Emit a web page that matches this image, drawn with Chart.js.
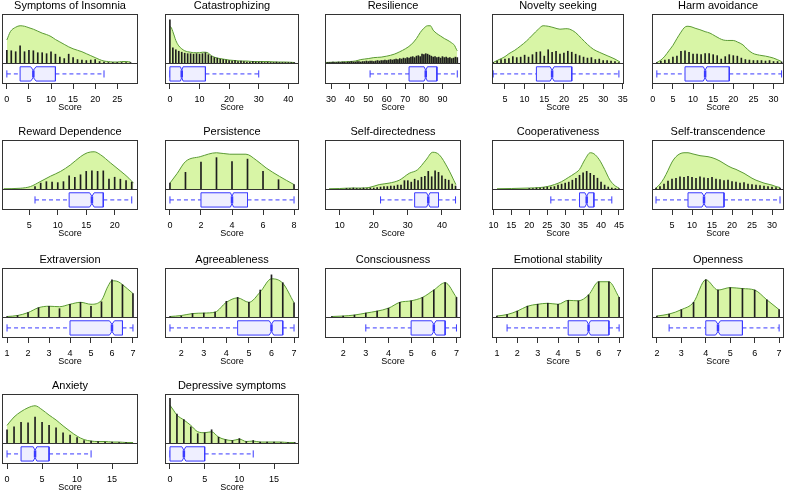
<!DOCTYPE html>
<html>
<head>
<meta charset="utf-8">
<script src="https://cdn.jsdelivr.net/npm/chart.js@4.4.0/dist/chart.umd.min.js"></script>
<style>
body { margin: 0; background: #fff; }
#wrap { position: relative; width: 789px; height: 493px; overflow: hidden; }
#wrap canvas { position: absolute; }
</style>
</head>
<body>
<div id="wrap"></div>
<script>
// density curves: [score, height in % of the upper panel]; spikes: heights from first score with a fixed step
const insomniaDensity = [[0,47],[0.8,64],[2,73],[3,76],[4,75],[5,72],[6,69],[7,65],[8,61],[9,58],[10,54],[11,48],[12,43],[13,38],[14,33],[15,29],[16,26],[17,23],[18,19],[19,15],[20,11],[21,7],[22,4],[23,3],[24,2],[25,2],[26,3],[27,3],[28,2]];
const insomniaSpikes = [26,25,23,35,23,26,25,21,21,19,23,18,12,9,18,11,7,6,5,6,7,3,2,1,1,1,1,1,1];
const insomniaBox = [0, 3, 6, 11, 22, 0.6];
const insomniaTicks = [0, 5, 10, 15, 20, 25];

const catastDensity = [[0,75],[0.5,72],[1,64],[1.5,55],[2,46],[3,35],[4,29],[5,25],[6,23],[7,22],[8,21],[9,21],[10,21],[11,22],[12,22],[13,20],[14,15],[15,12],[16,10],[17,9],[18,8],[20,6],[22,5],[24,4],[26,4],[28,3],[30,3],[33,3],[36,2],[39,2],[42,1]];
const catastSpikes = [88,31,27,24,22,20,19,19,18,19,18,19,21,17,14,11,10,8,7,6,5,4,5,3,4,3,2,2,3,2,2,2,1,2,1,1,2,1,1,1,1,1,1];
const catastBox = [0, 0, 4, 12, 30, 0.45];
const catastTicks = [0, 10, 20, 30, 40];

const resilienceDensity = [[27,1],[30,1.5],[35,2],[40,3],[43,4],[46,7],[50,9],[53,11],[57,12],[60,14],[64,18],[67,23],[70,29],[73,37],[76,50],[78,62],[80,71],[82,76],[83.5,76],[85,67],[87,60],[89,55],[91,50],[93,46],[95,41],[96.5,36],[97.5,28],[98,25]];
const resilienceSpikes = [1,1,1,2,1,1,2,1,2,2,1,2,2,3,2,2,3,3,2,3,3,4,3,4,4,3,4,5,4,5,5,6,5,6,7,6,7,8,7,9,8,10,9,11,10,12,13,11,14,15,13,18,17,19,18,16,14,12,13,11,12,10,13,11,12,10,11,9,10,12,11];
const resilienceBox = [51, 72, 81, 87, 98, 0.9];
const resilienceTicks = [30, 40, 50, 60, 70, 80, 90];

const noveltyDensity = [[2,1],[3.5,7],[5,13],[6,19],[7.5,26],[9,35],[10.5,45],[12,57],[13.5,69],[14.7,76],[16,75],[17.5,72],[19,69],[20.5,70],[21.5,69],[23,62],[24.5,50],[26,38],[27.5,28],[29,22],[31,15],[33,8],[34.3,2]];
const noveltySpikes = [1,4,7,8,9,13,11,12,16,12,17,22,23,14,27,22,24,18,20,24,22,18,15,12,10,11,7,8,5,5,4,3,1];
const noveltyBox = [2, 13, 17, 22, 34, 0.5];
const noveltyTicks = [5, 10, 15, 20, 25, 30, 35];

const harmDensity = [[1,1],[2,6],[3,14],[4,25],[5,36],[6,50],[7,63],[7.8,72],[8.5,75],[9.5,74],[10.5,71],[11.7,68],[13,64],[14.2,61],[15.5,55],[16.6,50],[17.5,47],[18.5,46],[20,46],[21,43],[22.4,37],[23.5,28],[24.8,20],[26.5,16],[28,14],[30,10],[32,3]];
const harmSpikes = [1,4,6,7,12,14,24,25,22,18,18,17,19,19,17,15,8,13,17,15,14,10,7,6,5,5,5,4,5,3,3,2];
const harmBox = [1, 8, 13, 19, 32, 0.45];
const harmTicks = [0, 5, 10, 15, 20, 25, 30];

const rewardDensity = [[0.5,0.5],[3.4,1.5],[5.2,5],[6.9,15],[8.7,26],[10.5,36],[12.2,49],[14,66],[15.2,74],[16.4,76],[17.5,70],[19.3,53],[21.1,36],[22.5,22],[23.3,12]];
const rewardSpikes = [5,12,15,14,13,15,27,24,29,36,37,36,37,20,24,20,17,14];
const rewardBox = [6, 12, 16, 18, 23, 0.4];
const rewardTicks = [5, 10, 15, 20];

const persistDensity = [[0,12],[0.47,32],[1,56],[1.95,66],[3,74],[3.86,71],[4.9,71],[5.56,59],[6.2,43],[7.05,26],[8,9]];
const persistSpikes = [12,34,55,64,56,61,36,19,9];
const persistBox = [0, 2, 4, 5, 8, 0.1];
const persistTicks = [0, 2, 4, 6, 8];

const selfDirDensity = [[6.9,0.5],[10,1],[13.7,2],[16,2],[18.6,3],[21.6,9],[24.5,12],[27.5,18],[30.4,32],[32.8,39],[35.3,59],[37.3,75],[39.2,70],[41.7,43],[44.1,9]];
const selfDirSpikes = [1,1,2,1,1,2,1,2,2,3,4,5,5,6,6,8,8,17,17,14,20,17,24,26,36,25,37,34,27,20,18,10,6];
const selfDirBox = [22, 32, 36, 39, 44, 0.5];
const selfDirTicks = [10, 20, 30, 40];

const coopDensity = [[11,0.5],[15,1],[20,2],[23,3],[25,5],[27,9],[29,15],[31,24],[32.5,31],[34,40],[35.5,60],[37,74],[38,72],[39.5,60],[41,40],[42.5,18],[44,6],[45,2]];
const coopSpikes = [1,1,2,2,3,4,4,5,8,10,12,14,18,22,28,33,36,32,28,22,14,8,4,2,1,1];
const coopBox = [26, 34, 36, 38, 43, 0.5];
const coopTicks = [10, 15, 20, 25, 30, 35, 40, 45];

const transDensity = [[1,2],[2,10],[3,22],[4,38],[5,55],[6,66],[7,72],[8,74],[9,74],[10,72],[11,70],[12,68],[13,67],[14,66],[15,64],[16,61],[17,57],[18,52],[19,47],[20,43],[21,40],[22,36],[23,32],[24,27],[25,22],[26,18],[27,15],[28,12],[29,10],[30,8],[31,5],[32,3]];
const transSpikes = [2,5,10,16,20,22,25,24,26,24,22,25,23,22,24,20,19,17,18,15,14,12,13,10,9,8,7,6,5,4,3,2];
const transBox = [1, 9, 13, 18, 32, 0.5];
const transTicks = [5, 10, 15, 20, 25, 30];

const extraDensity = [[1,1],[1.5,3],[2,9],[2.5,19],[3,22],[3.5,21],[4,26],[4.5,30],[5,26],[5.5,34],[5.8,62],[6,74],[6.3,72],[6.5,66],[7,48]];
const extraSpikes = [1,3,9,19,22,17,26,30,22,31,76,66,48];
const extraBox = [1, 4, 6, 6.5, 7, 0.12];
const extraTicks = [1, 2, 3, 4, 5, 6, 7];

const agreeDensity = [[1.5,1],[2,3],[2.5,7],[3,8],[3.5,10],[4,30],[4.5,39],[5,30],[5.5,51],[6,78],[6.5,69],[7,29]];
const agreeSpikes = [1,2,7,8,10,32,40,30,55,86,70,29];
const agreeBox = [1.5, 4.5, 6, 6.5, 7, 0.1];
const agreeTicks = [2, 3, 4, 5, 6, 7];

const conscDensity = [[1.5,1],[2,2],[2.5,4],[3,8],[3.5,12],[4,18],[4.5,30],[5,33],[5.5,40],[6,55],[6.5,70],[7,40]];
const conscSpikes = [1,2,4,8,12,18,30,33,40,55,70,40];
const conscBox = [3, 5, 6, 6.5, 7, 0.1];
const conscTicks = [2, 3, 4, 5, 6, 7];

const emoDensity = [[1,2],[1.5,5],[2,12],[2.5,22],[3,26],[3.5,28],[4,26],[4.5,34],[5,33],[5.5,45],[6,72],[6.5,72],[7,40]];
const emoSpikes = [2,5,12,22,26,28,26,34,33,45,72,72,40];
const emoBox = [1.5, 4.5, 5.5, 6.5, 7, 0.1];
const emoTicks = [1, 2, 3, 4, 5, 6, 7];

const openDensity = [[2,2],[2.5,6],[3,15],[3.5,30],[4,76],[4.5,55],[5,60],[5.5,58],[6,55],[6.5,35],[7,15]];
const openSpikes = [2,6,15,30,76,55,60,58,55,35,15];
const openBox = [2.5, 4, 4.5, 5.5, 7, 0.1];
const openTicks = [2, 3, 4, 5, 6, 7];

const anxDensity = [[0,36],[1,53],[2,64],[3,72],[4,76],[5,68],[6,57],[7,47],[8,35],[9,24],[10,14],[11,7],[12,4],[13,3],[14,3],[15,2],[16,2],[17,1],[18,1]];
const anxSpikes = [27,33,42,41,53,42,36,31,21,16,11,5,4,3,2,2,1,1];
const anxBox = [0, 2, 4, 6, 12, 0.26];
const anxTicks = [0, 5, 10, 15];

const depDensity = [[0,77],[0.5,67],[1,57],[2,47],[3,36],[4,23],[5,21],[6,23],[7,12],[8,7],[9,5],[10,8],[11,3],[12,4],[13,2],[14,2],[15,2],[16,2],[17,1],[18,1]];
const depSpikes = [91,59,48,33,19,21,27,12,7,5,9,3,5,2,2,2,1,1,1];
const depBox = [0, 0, 2, 5, 12, 0.28];
const depTicks = [0, 5, 10, 15];

const panels = [
    { title: 'Symptoms of Insomnia', density: insomniaDensity, spikes: insomniaSpikes, first: 0, step: 1, box: insomniaBox, ticks: insomniaTicks, range: [-1.1, 29.7] },
    { title: 'Catastrophizing', density: catastDensity, spikes: catastSpikes, first: 0, step: 1, box: catastBox, ticks: catastTicks, range: [-1.65, 43.6] },
    { title: 'Resilience', density: resilienceDensity, spikes: resilienceSpikes, first: 28, step: 1, box: resilienceBox, ticks: resilienceTicks, range: [26.7, 100] },
    { title: 'Novelty seeking', density: noveltyDensity, spikes: noveltySpikes, first: 2, step: 1, box: noveltyBox, ticks: noveltyTicks, range: [1.7, 35.3] },
    { title: 'Harm avoidance', density: harmDensity, spikes: harmSpikes, first: 1, step: 1, box: harmBox, ticks: harmTicks, range: [-0.2, 32.6] },
    { title: 'Reward Dependence', density: rewardDensity, spikes: rewardSpikes, first: 6, step: 1, box: rewardBox, ticks: rewardTicks, range: [0.2, 24.1] },
    { title: 'Persistence', density: persistDensity, spikes: persistSpikes, first: 0, step: 1, box: persistBox, ticks: persistTicks, range: [-0.32, 8.32] },
    { title: 'Self-directedness', density: selfDirDensity, spikes: selfDirSpikes, first: 12, step: 1, box: selfDirBox, ticks: selfDirTicks, range: [5.7, 45.6] },
    { title: 'Cooperativeness', density: coopDensity, spikes: coopSpikes, first: 20, step: 1, box: coopBox, ticks: coopTicks, range: [9.6, 46.4] },
    { title: 'Self-transcendence', density: transDensity, spikes: transSpikes, first: 1, step: 1, box: transBox, ticks: transTicks, range: [0, 33] },
    { title: 'Extraversion', density: extraDensity, spikes: extraSpikes, first: 1, step: 0.5, box: extraBox, ticks: extraTicks, range: [0.76, 7.24] },
    { title: 'Agreeableness', density: agreeDensity, spikes: agreeSpikes, first: 1.5, step: 0.5, box: agreeBox, ticks: agreeTicks, range: [1.28, 7.22] },
    { title: 'Consciousness', density: conscDensity, spikes: conscSpikes, first: 1.5, step: 0.5, box: conscBox, ticks: conscTicks, range: [1.2, 7.2] },
    { title: 'Emotional stability', density: emoDensity, spikes: emoSpikes, first: 1, step: 0.5, box: emoBox, ticks: emoTicks, range: [0.76, 7.24] },
    { title: 'Openness', density: openDensity, spikes: openSpikes, first: 2, step: 0.5, box: openBox, ticks: openTicks, range: [1.8, 7.2] },
    { title: 'Anxiety', density: anxDensity, spikes: anxSpikes, first: 0, step: 1, box: anxBox, ticks: anxTicks, range: [-0.72, 18.7] },
    { title: 'Depressive symptoms', density: depDensity, spikes: depSpikes, first: 0, step: 1, box: depBox, ticks: depTicks, range: [-0.72, 18.6] }
];

const FONT = "'Liberation Sans', Arial, Helvetica, sans-serif";
const GREEN_FILL = '#d8f5a6';
const GREEN_LINE = '#5a9a34';
const BOX_LINE = '#3a3aff';
const BOX_FILL = '#efefff';

// frame positions of the plot boxes (x from/to per column, top per row)
const COLS = [[2, 138], [165, 299], [325, 461], [492, 624], [652, 784]];
const ROWS = [14, 140, 268, 394];
const UPPER = 49, LOWER = 21, PAD_X = 16, TITLE_H = 18, AXIS_H = 30;

// y scale: 0..100 is the density part, negative is the boxplot strip
const yMax = 100;
const yMin = -100 * LOWER / UPPER;

const framePlugin = {
    id: 'frame',
    afterDatasetsDraw(chart) {
        const { ctx, chartArea: a, scales } = chart;
        const y0 = Math.round(scales.y.getPixelForValue(0)) + 0.5;
        ctx.save();
        ctx.strokeStyle = '#333';
        ctx.lineWidth = 1;
        ctx.strokeRect(a.left + 0.5, a.top + 0.5, a.right - a.left - 1, a.bottom - a.top - 1);
        ctx.beginPath();
        ctx.moveTo(a.left, y0);
        ctx.lineTo(a.right, y0);
        ctx.stroke();
        ctx.restore();
    }
};

function seg(points, opts) {
    return Object.assign({
        type: 'line',
        data: points.map(p => ({ x: p[0], y: p[1] })),
        borderColor: BOX_LINE,
        borderWidth: 1,
        pointRadius: 0,
        fill: false,
        tension: 0
    }, opts || {});
}

const wrap = document.getElementById('wrap');

panels.forEach(function (p, i) {
    const [left, right] = COLS[i % 5];
    const top = ROWS[Math.floor(i / 5)];

    const canvas = document.createElement('canvas');
    canvas.width = right - left + 2 * PAD_X;
    canvas.height = TITLE_H + UPPER + LOWER + AXIS_H;
    canvas.style.left = (left - PAD_X) + 'px';
    canvas.style.top = (top - TITLE_H) + 'px';
    wrap.appendChild(canvas);

    const [mn, q1, md, q3, mx, notch] = p.box;
    const yc = yMin * 0.52;
    const hh = -yMin * 0.34;
    const waist = hh * 0.5;
    const cap = hh * 0.5;

    const datasets = [
        seg([[md, yc - waist], [md, yc + waist]], { borderWidth: 2.5 }),
        seg([[q1, yc - hh], [q1, yc + hh], [md - notch, yc + hh], [md, yc + waist], [md + notch, yc + hh],
             [q3, yc + hh], [q3, yc - hh], [md + notch, yc - hh], [md, yc - waist], [md - notch, yc - hh], [q1, yc - hh]],
            { fill: 'shape', backgroundColor: BOX_FILL }),
        seg([[mn, yc - cap], [mn, yc + cap]]),
        seg([[mx, yc - cap], [mx, yc + cap]]),
        seg([[mn, yc], [q1, yc]], { borderDash: [4, 3] }),
        seg([[q3, yc], [mx, yc]], { borderDash: [4, 3] }),
        {
            type: 'bar',
            data: p.spikes.map((h, k) => ({ x: p.first + k * p.step, y: h })),
            backgroundColor: '#1e1e1e',
            borderWidth: 0,
            barThickness: 1
        },
        {
            type: 'line',
            data: p.density.map(d => ({ x: d[0], y: d[1] })),
            fill: 'origin',
            backgroundColor: GREEN_FILL,
            borderColor: GREEN_LINE,
            borderWidth: 1,
            pointRadius: 0,
            cubicInterpolationMode: 'monotone'
        }
    ];

    new Chart(canvas, {
        type: 'line',
        data: { datasets: datasets },
        options: {
            responsive: false,
            animation: false,
            events: [],
            layout: { padding: { left: PAD_X, right: PAD_X, top: 0, bottom: 0 } },
            plugins: {
                legend: { display: false },
                tooltip: { enabled: false },
                title: {
                    display: true,
                    text: p.title,
                    color: '#000',
                    font: { family: FONT, size: 11, weight: 'normal', lineHeight: '14px' },
                    padding: { top: 3, bottom: 1 }
                }
            },
            scales: {
                x: {
                    type: 'linear',
                    min: p.range[0],
                    max: p.range[1],
                    offset: false,
                    afterBuildTicks: s => { s.ticks = p.ticks.map(v => ({ value: v })); },
                    afterFit: s => { s.height = AXIS_H; },
                    grid: { drawOnChartArea: false, drawTicks: true, tickLength: 5, tickColor: '#333', offset: false },
                    border: { display: false },
                    ticks: { color: '#000', font: { family: FONT, size: 9 }, padding: 5, maxRotation: 0, autoSkip: false },
                    title: { display: true, text: 'Score', color: '#000', font: { family: FONT, size: 9, lineHeight: 1 }, padding: { top: 0, bottom: 1.5 } }
                },
                y: { display: false, min: yMin, max: yMax }
            }
        },
        plugins: [framePlugin]
    });
});
</script>
</body>
</html>
